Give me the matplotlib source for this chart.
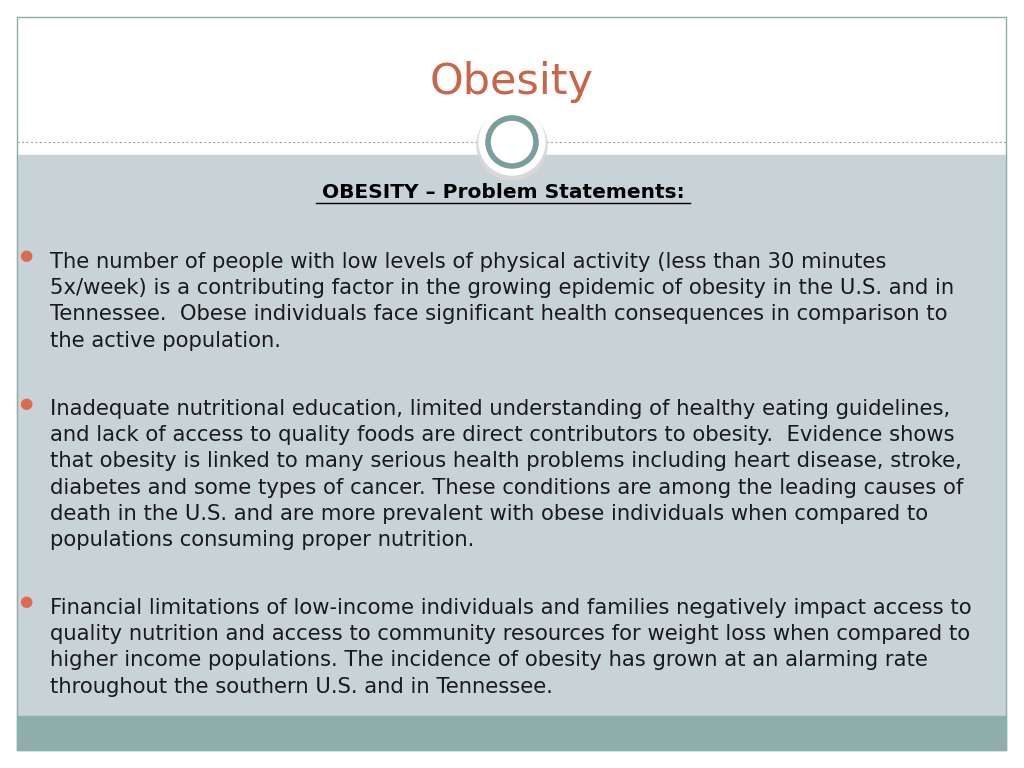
import matplotlib
matplotlib.use('Agg')
import matplotlib.pyplot as plt
from matplotlib.patches import Rectangle, Circle

title = 'Obesity'
heading = 'OBESITY \u2013 Problem Statements:'
bullets = [
    ['The number of people with low levels of physical activity (less than 30 minutes',
     '5x/week) is a contributing factor in the growing epidemic of obesity in the U.S. and in',
     'Tennessee.  Obese individuals face significant health consequences in comparison to',
     'the active population.'],
    ['Inadequate nutritional education, limited understanding of healthy eating guidelines,',
     'and lack of access to quality foods are direct contributors to obesity.  Evidence shows',
     'that obesity is linked to many serious health problems including heart disease, stroke,',
     'diabetes and some types of cancer. These conditions are among the leading causes of',
     'death in the U.S. and are more prevalent with obese individuals when compared to',
     'populations consuming proper nutrition.'],
    ['Financial limitations of low-income individuals and families negatively impact access to',
     'quality nutrition and access to community resources for weight loss when compared to',
     'higher income populations. The incidence of obesity has grown at an alarming rate',
     'throughout the southern U.S. and in Tennessee.'],
]
bullet_tops = [262, 409, 608]

plt.rcParams['font.family'] = ['DejaVu Sans']
fig = plt.figure(figsize=(10.24, 7.68), dpi=100)
ax = fig.add_axes([0, 0, 1, 1])
ax.set_xlim(0, 1024)
ax.set_ylim(768, 0)
ax.axis('off')

# frame and bands
ax.add_patch(Rectangle((17, 155), 989, 561, color='#c8d3d8', zorder=1))
ax.add_patch(Rectangle((17, 716), 989, 34, color='#8daeab', zorder=1))
ax.add_patch(Rectangle((17, 17), 989, 733, fill=False, ec='#8daeab', lw=1, zorder=2))
ax.plot([17, 1006], [142, 142], ls=(0, (2, 2)), color='#8daeab', lw=0.8, zorder=2)

# ornament circle
ax.add_patch(Circle((512, 145), 35, color='#d8d8d8', zorder=3))
ax.add_patch(Circle((512, 142), 33, color='white', zorder=4))
ax.add_patch(Circle((512, 142), 24, fill=False, ec='#789e9e', lw=4, zorder=5))

ax.text(512, 82, title, fontsize=31, color='#c8654a', ha='center', va='center')
ax.text(503, 192, heading, fontsize=14.5, fontweight='bold', ha='center', va='center')
ax.plot([316, 690], [203, 203], color='black', lw=1)

for lines, top in zip(bullets, bullet_tops):
    ax.text(26, top - 6, '\u25cf', fontsize=11, color='#e06a4e', ha='center', va='center')
    for i, line in enumerate(lines):
        ax.text(50, top + i * 26.2, line, fontsize=15.2, color='#1a1a1a', ha='left', va='center')

fig.savefig('out.png', dpi=100, facecolor='white')
